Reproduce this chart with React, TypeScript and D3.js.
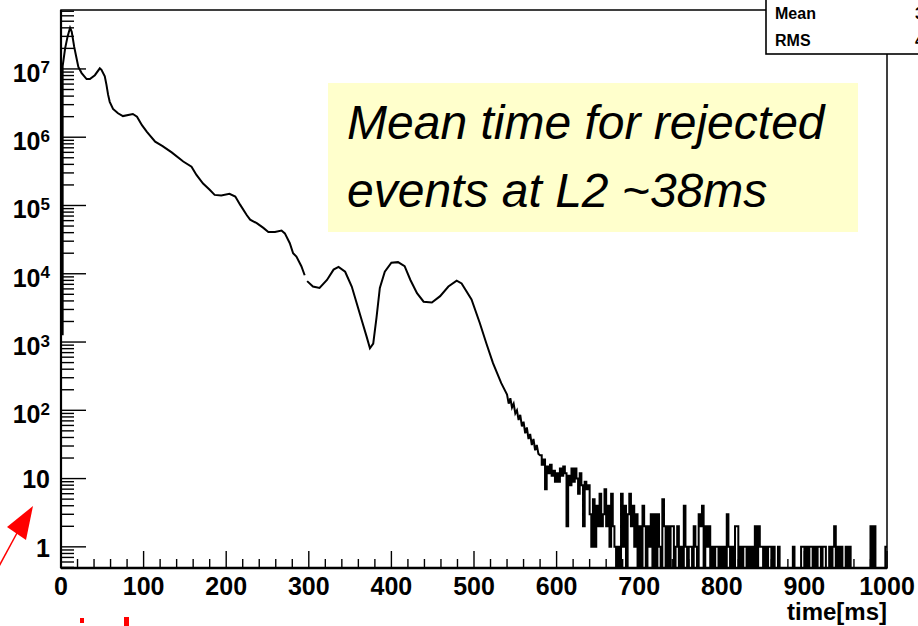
import React, { useEffect, useRef } from "react";
import * as d3 from "d3";

const width = 918;
const height = 626;
const font = "'Liberation Sans', Arial, Helvetica, sans-serif";

// smooth part of the time spectrum (ms, entries); null = gap in the line
const smoothTime = [
  0, 2, 2, 5, 8, 11, 13, 16, 18, 21, 25, 31, 35, 41, 47, 49, 53, 55, 57, 59,
  63, 69, 75, 87, 92, 98, 104, 114, 123, 134, 148, 158, 164, 172, 180, 186,
  194, 204, 211, 217, 225, 229, 237, 245, 251, 259, 267, 271, 277, 281, 285,
  291, 295, 296, 298, 305, 313, 322, 330, 336, 344, 352, 358, 364, 370, 374,
  378, 382, 386, 392, 400, 408, 416, 423, 431, 439, 449, 459, 469, 479, 485,
  497, 507, 515, 523, 533, 540, 542, 544, 546, 548, 550, 552, 554, 556, 558,
  560, 562, 564, 566, 568, 570, 572, 574, 576, 578
];
const smoothValue = [
  1300, 1300, 1.1e7, 2.0e7, 3.0e7, 4.0e7, 3.5e7, 2.1e7, 1.6e7, 1.07e7, 8.7e6,
  7.1e6, 7.1e6, 8.1e6, 1.02e7, 9.7e6, 7.8e6, 5.9e6, 4.2e6, 3.3e6,
  2.6e6, 2.24e6, 2.04e6, 2.19e6, 2.0e6, 1.5e6, 1.2e6, 8.6e5, 7.4e5, 6.0e5,
  4.4e5, 3.7e5, 2.8e5, 2.1e5, 1.7e5, 1.43e5,
  1.4e5, 1.48e5, 1.35e5, 1.02e5, 7.2e4, 6.2e4, 5.5e4, 4.7e4, 4.1e4, 4.1e4,
  4.3e4, 3.9e4, 2.8e4, 2.0e4, 1.78e4,
  1.29e4, 9.5e3, null, 7.8e3, 6.5e3, 6.2e3, 8.1e3, 1.15e4, 1.26e4, 1.07e4,
  6.5e3, 3.7e3, 2.1e3, 1.2e3, 810,
  950, 2.3e3, 6.2e3, 1.07e4, 1.45e4, 1.48e4, 1.29e4, 8.1e3, 5.2e3, 3.9e3,
  3.8e3, 4.7e3, 6.5e3, 7.9e3, 7.2e3,
  4.2e3, 1.9e3, 950, 490, 250, 170, 125, 150, 110, 125, 90, 100, 72, 86, 58,
  68, 46, 56, 38, 45, 31, 38, 26, 31, 23
];

// noisy tail, 2 ms bins starting at 580 ms (entries per bin)
const tailStart = 580;
const tailBin = 2;
const tailCounts = [
  22, 16, 19, 7, 15, 12, 16, 11, 13, 9,
  12, 9, 14, 11, 15, 12, 2, 11, 8, 14,
  9, 14, 10, 6, 12, 8, 2, 9, 7, 8,
  3, 1, 5, 1, 4, 2, 6, 2, 3, 7,
  2, 4, 1, 6, 2, 1, 0, 1, 0, 6,
  1, 4, 0, 3, 6, 2, 4, 1, 3, 0,
  2, 0, 4, 2, 0, 2, 1, 3, 0, 3,
  0, 3, 1, 0, 5, 2, 0, 2, 0, 2,
  2, 0, 1, 2, 0, 1, 0, 4, 1, 0,
  1, 1, 0, 2, 1, 0, 3, 2, 4, 0,
  2, 1, 2, 0, 1, 0, 1, 1, 0, 1,
  0, 1, 0, 3, 1, 0, 1, 0, 2, 2,
  0, 1, 0, 1, 1, 0, 1, 0, 1, 0,
  2, 0, 2, 1, 1, 0, 1, 0, 1, 1,
  0, 1, 0, 0, 1, 0, 0, 0, 0, 0,
  0, 0, 0, 1, 0, 0, 0, 0, 1, 1,
  0, 1, 0, 1, 1, 0, 1, 0, 1, 1,
  0, 1, 1, 0, 0, 1, 0, 1, 2, 0,
  1, 0, 1, 0, 0, 1, 0, 1, 0, 0,
  0, 0, 0, 0, 0, 0, 0, 0, 0, 0,
  2, 0, 2, 0, 0, 0, 0, 0, 0, 1
];

const xMajorTicks = [0, 100, 200, 300, 400, 500, 600, 700, 800, 900, 1000];
const yDecades = [0, 1, 2, 3, 4, 5, 6, 7];
const statNames = ["Mean", "RMS"];
const statValues = ["38.02", "41.65"];
const noteLines = ["Mean time for rejected", "events at L2 ~38ms"];

const yMin = 0.49;
const yMax = 7.3e7;

const App = () => {
  const ref = useRef<SVGSVGElement>(null);

  useEffect(() => {
    const svg = d3.select(ref.current);
    svg.selectAll("*").remove();

    const x = d3.scaleLinear().domain([0, 1000]).range([61, 887]);
    const y = d3.scaleLog().domain([yMin, yMax]).range([568, 10]).clamp(true);

    // frame
    svg.append("rect")
      .attr("x", x(0)).attr("y", y(yMax))
      .attr("width", x(1000) - x(0)).attr("height", y(yMin) - y(yMax))
      .attr("fill", "none").attr("stroke", "#000").attr("stroke-width", 1.5);

    // y ticks
    const gy = svg.append("g").attr("stroke", "#000").attr("stroke-width", 1.4);
    for (let k = -1; k <= 7; k++) {
      for (let m = 1; m <= 9; m++) {
        const v = m * Math.pow(10, k);
        if (v < yMin || v > yMax) continue;
        const len = m === 1 ? 25 : 13;
        gy.append("line")
          .attr("x1", x(0)).attr("x2", x(0) + len)
          .attr("y1", y(v)).attr("y2", y(v));
      }
    }
    // x ticks
    const gx = svg.append("g").attr("stroke", "#000").attr("stroke-width", 1.4);
    d3.range(0, 1001, 20).forEach(t => {
      const len = t % 100 === 0 ? 17 : 9;
      gx.append("line")
        .attr("x1", x(t)).attr("x2", x(t))
        .attr("y1", y(yMin)).attr("y2", y(yMin) - len);
    });

    // axis lines (thicker)
    svg.append("line")
      .attr("x1", x(0)).attr("x2", x(0)).attr("y1", y(yMax)).attr("y2", y(yMin))
      .attr("stroke", "#000").attr("stroke-width", 2.2);
    svg.append("line")
      .attr("x1", x(0)).attr("x2", x(1000)).attr("y1", y(yMin)).attr("y2", y(yMin))
      .attr("stroke", "#000").attr("stroke-width", 2.4);

    // y labels
    const ly = svg.append("g")
      .attr("font-family", font).attr("font-weight", "bold")
      .attr("font-size", 25).attr("text-anchor", "end").attr("fill", "#000");
    yDecades.forEach(k => {
      const v = Math.pow(10, k);
      if (k === 0) {
        ly.append("text").attr("x", 50).attr("y", y(v) + 10).text("1");
      } else if (k === 1) {
        ly.append("text").attr("x", 50).attr("y", y(v) + 9).text("10");
      } else {
        const t = ly.append("text").attr("x", 50).attr("y", y(v) + 13);
        t.append("tspan").text("10");
        t.append("tspan").attr("dy", -8.5).attr("font-size", 17).text(String(k));
      }
    });

    // x labels
    const lx = svg.append("g")
      .attr("font-family", font).attr("font-weight", "bold")
      .attr("font-size", 25).attr("text-anchor", "middle").attr("fill", "#000");
    xMajorTicks.forEach(t => {
      lx.append("text").attr("x", x(t)).attr("y", 595).text(String(t));
    });
    svg.append("text")
      .attr("x", x(1000)).attr("y", 620)
      .attr("text-anchor", "end")
      .attr("font-family", font).attr("font-weight", "bold").attr("font-size", 24)
      .text("time[ms]");

    // histogram
    const pts: [number, number | null][] = smoothTime.map((t, i) => [t, smoothValue[i]]);
    tailCounts.forEach((c, i) => {
      const t0 = tailStart + i * tailBin;
      pts.push([t0, c]);
      pts.push([t0 + tailBin, c]);
    });
    const line = d3.line<[number, number | null]>()
      .defined(d => d[1] !== null)
      .x(d => x(d[0]))
      .y(d => ((d[1] as number) > 0 ? y(d[1] as number) : y(yMin)));
    svg.append("path")
      .attr("d", line(pts))
      .attr("fill", "none")
      .attr("stroke", "#000")
      .attr("stroke-width", 2)
      .attr("stroke-linejoin", "miter");

    // stats box
    svg.append("rect")
      .attr("x", 766).attr("y", -2).attr("width", 170).attr("height", 56)
      .attr("fill", "#fff").attr("stroke", "#000").attr("stroke-width", 1.6);
    const gs = svg.append("g")
      .attr("font-family", font).attr("font-weight", "bold").attr("font-size", 16);
    statNames.forEach((s, i) => {
      gs.append("text").attr("x", 775).attr("y", 19 + i * 27).text(s);
      gs.append("text").attr("x", 915).attr("y", 19 + i * 27).text(statValues[i]);
    });

    // annotation box
    svg.append("rect")
      .attr("x", 328).attr("y", 83).attr("width", 530).attr("height", 149)
      .attr("fill", "#ffffcc");
    const gn = svg.append("g")
      .attr("font-family", font).attr("font-style", "italic").attr("font-size", 48)
      .attr("fill", "#000");
    noteLines.forEach((s, i) => {
      gn.append("text").attr("x", 347).attr("y", 139 + i * 68).text(s);
    });

    // red arrow pointing at the axis
    svg.append("line")
      .attr("x1", -2).attr("y1", 568).attr("x2", 17).attr("y2", 533)
      .attr("stroke", "#ff0000").attr("stroke-width", 1.5);
    svg.append("path")
      .attr("d", "M33,506 L7,527 L26,540 Z")
      .attr("fill", "#ff0000");
    // tops of cut-off red text
    svg.append("rect").attr("x", 80).attr("y", 618).attr("width", 4).attr("height", 5).attr("fill", "#ff0000");
    svg.append("rect").attr("x", 124).attr("y", 617).attr("width", 5).attr("height", 9).attr("fill", "#ff0000");
  }, []);

  return (
    <svg
      ref={ref}
      width={width}
      height={height}
      viewBox={`0 0 ${width} ${height}`}
      style={{ position: "absolute", left: 0, top: 0, background: "#fff" }}
    ></svg>
  );
};

export default App;
